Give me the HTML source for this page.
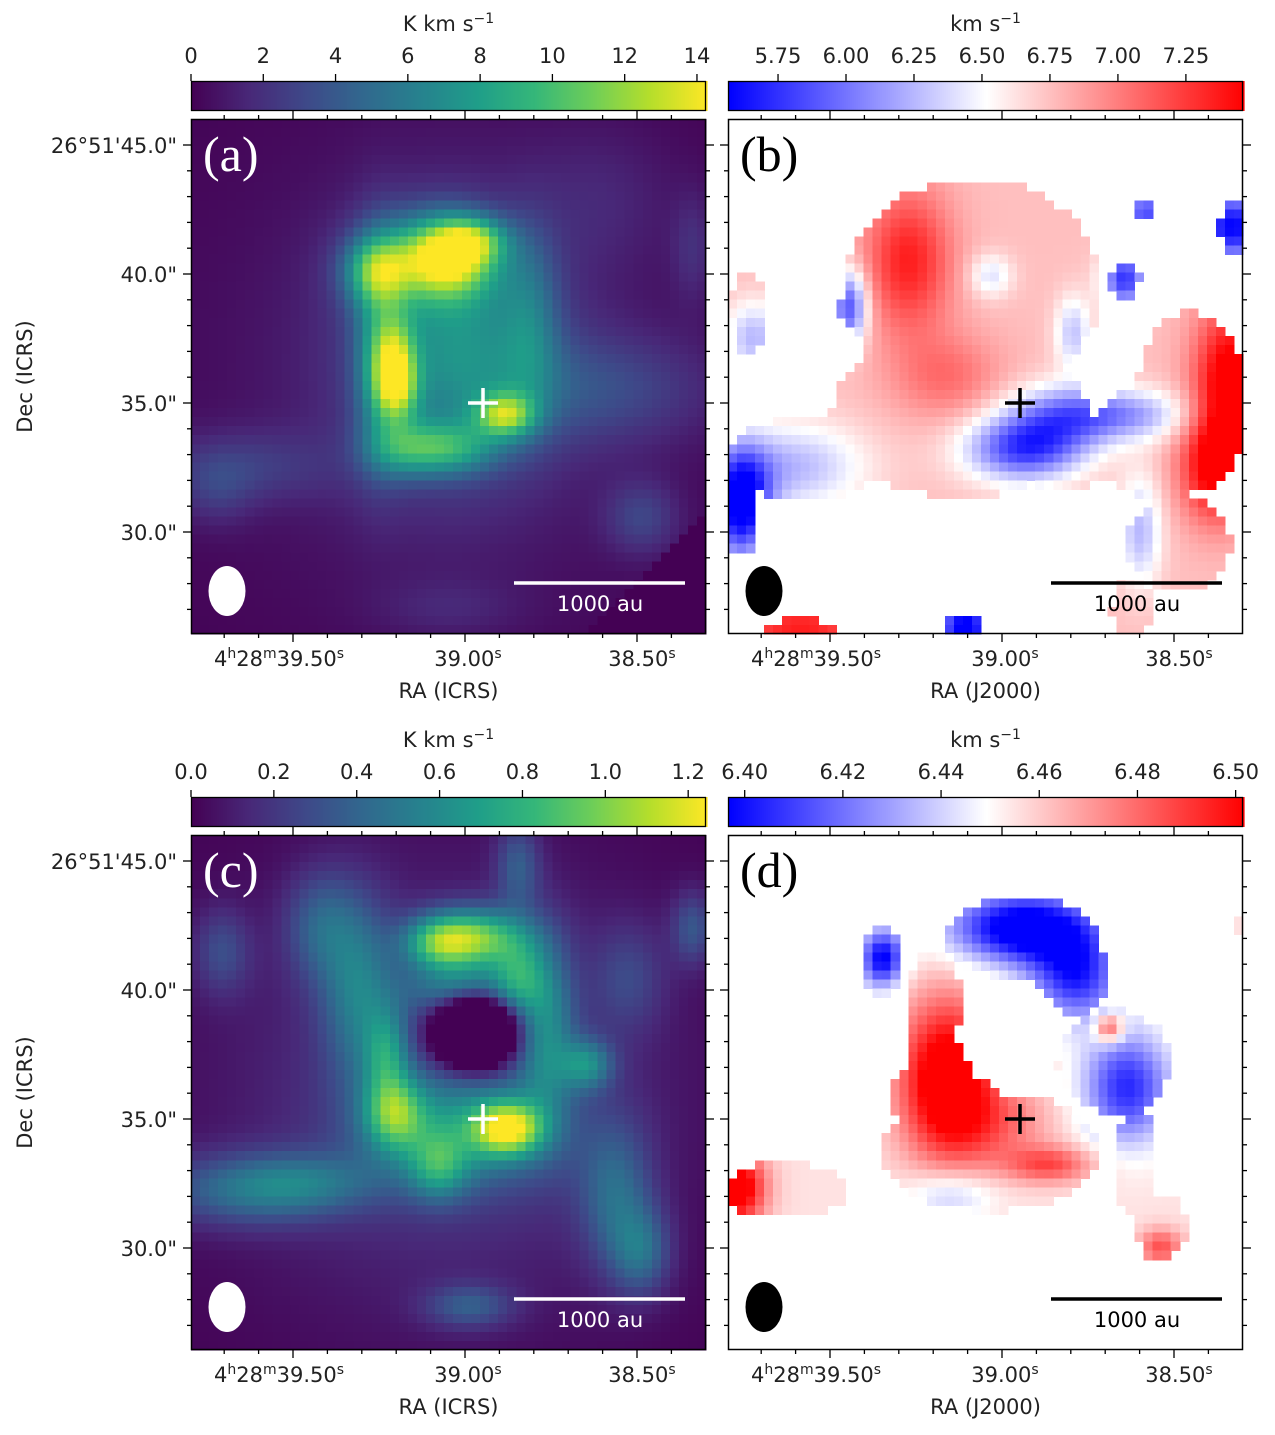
<!DOCTYPE html>
<html><head><meta charset="utf-8">
<style>
html,body{margin:0;padding:0;background:#fff;}
body{width:1275px;height:1435px;position:relative;overflow:hidden;font-family:"DejaVu Sans","Liberation Sans",sans-serif;}
svg{position:absolute;left:0;top:0;}
</style></head>
<body>
<svg id="fig" width="1275" height="1435" viewBox="0 0 1275 1435" xmlns="http://www.w3.org/2000/svg"></svg>
<script>
// ---- Panel (a): moment-0 blobs [u arcsec, v arcsec, amp K km/s, sx, sy]
const aU   = [10.0,11.0,7.2,9.3,7.9,8.0,7.3,12.2,10.0,8.2,10.5,13.2,16,2,1,17.5,10,16,19.5,10,10];
const aV   = [5.3,4.7,5.9,5.5,9.4,10.6,9,11.5,12.8,12.8,9,8,10.5,13.5,14.5,15.5,10,3,5,19,9];
const aAmp = [8,5,6,5,7,5,4,8,5.5,4,3.5,3,2.5,2,1.5,2.5,1.2,1,1.5,1,2.5];
const aSx  = [1.2,0.9,0.9,1.8,0.6,0.6,0.7,0.8,1.3,1.0,2,0.8,3,2.5,1,1,7,2,0.6,2,3];
const aSy  = [1.0,0.6,0.9,1.3,1.2,0.9,3,0.6,0.7,0.8,2.5,2.5,1.5,1,1,1,7,2,1.5,0.8,4];
const aTicks = [0,2,4,6,8,10,12,14];
// ---- Panel (c)
const cU   = [11.0,9.5,12.7,7.9,7.6,12.3,15.4,9.6,6.5,13.8,10.5,11,10.5,2,4.5,16.5,17.5,19.5,17,12.7,1.2,5,10.8,10];
const cV   = [4.0,4.2,5.5,10.8,8.5,11.4,8.9,12.9,6,7.5,6.0,7.6,11.5,13.8,13.5,14,16.2,3.6,5.5,1.2,4.5,3.5,18.3,10];
const cAmp = [0.85,0.45,0.4,0.6,0.4,0.85,0.45,0.4,0.4,0.45,0.4,-1.3,0.45,0.35,0.25,0.35,0.35,0.3,0.2,0.3,0.25,0.3,0.3,0.22];
const cSx  = [1.4,0.9,0.7,0.8,0.6,0.9,0.7,0.8,1,0.8,1.5,1.0,2.5,2.5,2,1,0.8,0.6,1,0.6,0.8,1,1.2,6];
const cSy  = [0.8,0.7,1.0,1.0,1.2,0.7,0.7,0.9,2.5,2.5,0.8,0.9,1.5,1.0,0.8,2,1.2,1,1.5,1.2,1.2,1.5,0.6,6];
const cTicks = [0.0,0.2,0.4,0.6,0.8,1.0,1.2];
// ---- Panel (b): velocity blobs and mask ellipses
const bBase = 6.75;
const bU   = [7,10.2,8.5,11.5,13,15.5,13.4,19.5,19,0.5,2.5,19.6,16.2,15.4,4.7,9.2,1,2.8,16];
const bV   = [5.5,6.1,10,12.8,11.5,11.5,8.3,10,13.5,15,13.5,4.2,3.6,6.2,7.3,19.7,8.5,19.8,16];
const bAmp = [0.6,-0.35,0.3,-0.95,-0.55,-0.55,-0.45,0.8,0.8,-1.3,-0.5,-1.2,-0.9,-1.0,-0.9,-1.3,-0.5,0.6,-0.5];
const bSx  = [1.2,0.6,1.5,1.6,1.5,1.8,0.5,1,1,0.8,2,1,0.6,0.6,0.5,0.8,0.8,2,0.6];
const bSy  = [2,0.6,1.2,0.9,0.9,0.7,1,2,1.5,1.5,1.2,1,0.6,0.8,1,0.6,1,1,1.5];
const bMaskU  = [9.5,9,13,3,18,16.8,17.5,0.5,0.8,19.6,16.2,15.4,4.7,2.8,9.2,15.7];
const bMaskV  = [6.5,11.5,12.8,13.2,11,12.5,16.5,15,7.5,4.2,3.6,6.2,7.3,19.8,19.7,19];
const bMaskRx = [5,5,3,3,2.2,2.8,2,0.7,0.7,0.5,0.4,0.6,0.35,1.4,0.7,0.8];
const bMaskRy = [4.2,3.2,1.5,1.6,3.5,2.2,1.8,2,1.6,1.1,0.4,0.7,0.9,0.4,0.5,1.2];
const bTicks = [5.75,6.00,6.25,6.50,6.75,7.00,7.25];
// ---- Panel (d)
const dBase = 6.455;
const dU   = [11.5,13.5,6,8.5,14.8,15.5,8.6,12.5,0.3,16.8,10.5];
const dV   = [3.6,5.5,4.8,9.5,7.5,9.8,14,12.8,13.7,16,11.2];
const dAmp = [-0.07,-0.05,-0.06,0.06,0.04,-0.05,-0.02,0.03,0.06,0.03,0.02];
const dSx  = [2.0,1.2,0.6,1.3,0.4,1.2,1.2,1.2,0.8,0.6,1.5];
const dSy  = [1.0,1.2,0.8,2.2,0.4,1.5,0.7,0.5,1,0.5,1.2];
const dMaskU  = [11.4,13.3,5.9,8.0,15,15.8,10.2,8.5,16.8,2.2,19.8];
const dMaskV  = [4.0,5.5,4.9,7.0,8.8,12.7,12.3,10.3,15.2,13.8,3.5];
const dMaskRx = [3.0,1.6,0.8,1.1,2.2,0.8,4.3,2.2,1.0,2.4,0.3];
const dMaskRy = [1.6,1.5,1.4,2.6,2.0,2.2,2.3,1.8,1.3,1.1,0.3];
const dHole = [11,7.7,2.1];
const dTicks = [6.40,6.42,6.44,6.46,6.48,6.50];

const NS="http://www.w3.org/2000/svg";
const fig=document.getElementById('fig');
function el(tag,attrs,parent){const e=document.createElementNS(NS,tag);for(const k in attrs)e.setAttribute(k,attrs[k]);(parent||fig).appendChild(e);return e;}
const VIR=['#440154','#482878','#3e4989','#31688e','#26828e','#1f9e89','#35b779','#6ece58','#b5de2b','#fde725'];
function hex(h){return [parseInt(h.substr(1,2),16),parseInt(h.substr(3,2),16),parseInt(h.substr(5,2),16)];}
const VIRc=VIR.map(hex);
function viridis(t){t=Math.max(0,Math.min(1,t));const p=t*9,i=Math.min(8,Math.floor(p)),f=p-i;const a=VIRc[i],b=VIRc[i+1];return 'rgb('+a.map((x,k)=>Math.round(x+(b[k]-x)*f)).join(',')+')';}
function bwr(t){t=Math.max(0,Math.min(1,t));let r,g,b;if(t<0.5){const f=t/0.5;r=g=Math.round(255*f);b=255;}else{const f=(1-t)/0.5;r=255;g=b=Math.round(255*f);}return 'rgb('+r+','+g+','+b+')';}
function field(u,v,U,V,A,SX,SY,base){let s=base;for(let i=0;i<U.length;i++){const dx=(u-U[i])/SX[i],dy=(v-V[i])/SY[i];s+=A[i]*Math.exp(-0.5*(dx*dx+dy*dy));}return s;}
function inMask(u,v,MU,MV,MX,MY){for(let i=0;i<MU.length;i++){const dx=(u-MU[i])/MX[i],dy=(v-MV[i])/MY[i];if(dx*dx+dy*dy<=1)return true;}return false;}

const W=515, ARC=20, N=57, CELL=W/N;
const RA_MAJ=[102,273,447];
const FS=21;
function drawPanel(px,py,opts){
  const g=el('g',{});
  
  
  el('rect',{x:px,y:py,width:W,height:W,fill:opts.bg},g);
  const cells=el('g',{'shape-rendering':'crispEdges'},g);
  
  
  for(let j=0;j<N;j++)for(let i=0;i<N;i++){
    const u=(i+0.5)*ARC/N, v=(j+0.5)*ARC/N;
    const col=opts.color(u,v); if(!col)continue;
    el('rect',{x:(px+i*CELL).toFixed(2),y:(py+j*CELL).toFixed(2),width:(CELL+0.6).toFixed(2),height:(CELL+0.6).toFixed(2),fill:col},cells);
  }
  const fg=opts.fg;
  const beam=el('ellipse',{cx:px+36,cy:py+472,rx:18.5,ry:25,fill:fg},g);
  
  
  const sb=el('line',{x1:px+323,y1:py+464,x2:px+494,y2:py+464,stroke:fg,'stroke-width':3.5},g);
  
  
  const st=el('text',{x:px+409,y:py+492,'text-anchor':'middle','font-size':FS,fill:fg},g);
  st.textContent='1000 au';
  
  
  const cx=px+292, cy=py+284;
  const cr=el('path',{d:`M${cx-15} ${cy}H${cx+15}M${cx} ${cy-15}V${cy+15}`,stroke:fg,'stroke-width':3.5},g);
  
  
  const lb=el('text',{x:px+12,y:py+52,'font-size':50,fill:fg,'font-family':'Liberation Serif, serif'},g);
  lb.textContent=opts.letter;
  
  
  el('rect',{x:px+0.5,y:py+0.5,width:W-1,height:W-1,fill:'none',stroke:'#000','stroke-width':1.5},g);
  const tk=el('g',{stroke:'#000','stroke-width':1.3},g);
  
  
  const DEC0=26, AS=25.8;
  for(let k=-1;k<20;k++){const y=py+DEC0+k*AS; if(y<py+1||y>py+W-1)continue; const maj=(k%5===0); const L=maj?8:4;
    el('line',{x1:px-L,y1:y,x2:px,y2:y},tk); el('line',{x1:px+W,y1:y,x2:px+W+L,y2:y},tk);}
  for(let k=-3;k<18;k++){const x=px+RA_MAJ[0]+k*34.4; if(x<px+1||x>px+W-1)continue; const maj=(k%5===0); const L=maj?8:4;
    el('line',{x1:x,y1:py+W,x2:x,y2:py+W+L},tk); el('line',{x1:x,y1:py-L,x2:x,y2:py},tk);}
  const ra=el('g',{'font-size':FS,fill:'#222'},g);
  
  
  const t1=el('text',{x:px+RA_MAJ[0]-14,y:py+W+32,'text-anchor':'middle'},ra);
  t1.innerHTML='4<tspan font-size="14" dy="-8">h</tspan><tspan dy="8">28</tspan><tspan font-size="14" dy="-8">m</tspan><tspan dy="8">39.50</tspan><tspan font-size="14" dy="-8">s</tspan>';
  const t2=el('text',{x:px+RA_MAJ[1]+4,y:py+W+32,'text-anchor':'middle'},ra);
  t2.innerHTML='39.00<tspan font-size="14" dy="-8">s</tspan>';
  const t3=el('text',{x:px+RA_MAJ[2]+4,y:py+W+32,'text-anchor':'middle'},ra);
  t3.innerHTML='38.50<tspan font-size="14" dy="-8">s</tspan>';
  const xt=el('text',{x:px+W/2,y:py+W+64,'text-anchor':'middle','font-size':FS,fill:'#222'},g);
  xt.textContent=opts.xtitle;
  
  
  if(opts.left){
    const dl=el('g',{'font-size':FS,fill:'#222','text-anchor':'end'},g);
    
    
    const labs=['26°51\'45.0"','40.0"','35.0"','30.0"'];
    labs.forEach((s,k)=>{const t=el('text',{x:px-14,y:py+DEC0+k*5*AS+8},dl);t.textContent=s;});
    const yt=el('text',{x:0,y:0,'font-size':FS,fill:'#222','text-anchor':'middle',transform:`translate(32 ${py+W/2}) rotate(-90)`},g);
    yt.textContent='Dec (ICRS)';
    
    
  }
}
function drawColorbar(px,py,vmin,vmax,ticks,fmt,cmap,unit,name){
  const g=el('g',{});
  
  
  const H=30;
  for(let i=0;i<W;i+=2){el('rect',{x:px+i,y:py,width:2.6,height:H,fill:cmap(i/W)},g);}
  el('rect',{x:px+0.5,y:py+0.5,width:W-1,height:H-1,fill:'none',stroke:'#000','stroke-width':1.3},g);
  ticks.forEach(t=>{const x=px+(t-vmin)/(vmax-vmin)*W;
    el('line',{x1:x,y1:py-7,x2:x,y2:py,stroke:'#000','stroke-width':1.3},g);
    const tx=el('text',{x:x,y:py-18,'text-anchor':'middle','font-size':FS,fill:'#222'},g);tx.textContent=t.toFixed(fmt);});
  const u=el('text',{x:px+W/2,y:py-50,'text-anchor':'middle','font-size':FS,fill:'#222'},g);
  u.innerHTML=unit+' s<tspan font-size="14" dy="-8">−1</tspan>';
}
const aMax=14.25;
drawPanel(191,119,{name:'panel-a-moment0',bg:'#440154',fg:'#fff',letter:'(a)',xtitle:'RA (ICRS)',left:true,
  color:(u,v)=>{ if(u+v>35.4) return viridis(0); return viridis(field(u,v,aU,aV,aAmp,aSx,aSy,0)/aMax);} });
drawColorbar(191,81,0,aMax,aTicks,0,viridis,'K km','colorbar-a');
const bMin=5.566,bMax=7.46;
drawPanel(728,119,{name:'panel-b-velocity',bg:'#fff',fg:'#000',letter:'(b)',xtitle:'RA (J2000)',left:false,
  color:(u,v)=>{ if(!inMask(u,v,bMaskU,bMaskV,bMaskRx,bMaskRy))return null; const val=field(u,v,bU,bV,bAmp,bSx,bSy,bBase); return bwr((val-bMin)/(bMax-bMin));}});
drawColorbar(728,81,bMin,bMax,bTicks,2,bwr,'km','colorbar-b');
const cMax=1.243;
drawPanel(191,835,{name:'panel-c-moment0',bg:'#440154',fg:'#fff',letter:'(c)',xtitle:'RA (ICRS)',left:true,
  color:(u,v)=>viridis(field(u,v,cU,cV,cAmp,cSx,cSy,0)/cMax)});
drawColorbar(191,797,0,cMax,cTicks,1,viridis,'K km','colorbar-c');
const dMin=6.3966,dMax=6.5015;
drawPanel(728,835,{name:'panel-d-velocity',bg:'#fff',fg:'#000',letter:'(d)',xtitle:'RA (J2000)',left:false,
  color:(u,v)=>{ const hx=(u-dHole[0]),hy=(v-dHole[1]); if(hx*hx+hy*hy<dHole[2]*dHole[2])return null;
    if(!inMask(u,v,dMaskU,dMaskV,dMaskRx,dMaskRy))return null; const val=field(u,v,dU,dV,dAmp,dSx,dSy,dBase); return bwr((val-dMin)/(dMax-dMin));}});
drawColorbar(728,797,dMin,dMax,dTicks,2,bwr,'km','colorbar-d');
</script>
</body></html>
